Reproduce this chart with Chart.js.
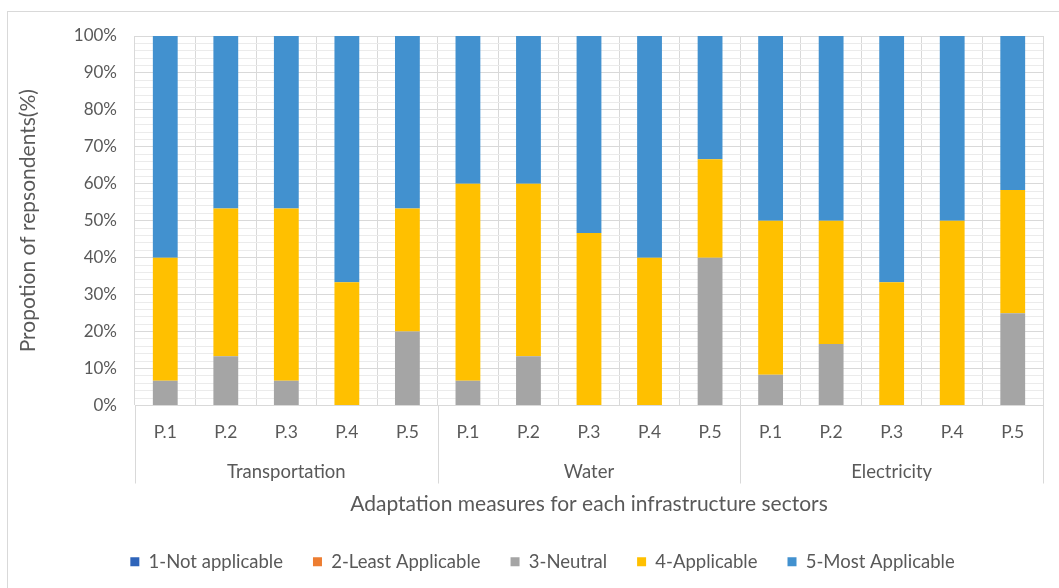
<!DOCTYPE html>
<html>
<head>
<meta charset="utf-8">
<script src="https://cdn.jsdelivr.net/npm/chart.js@4/dist/chart.umd.min.js"></script>
<style>
  html, body { margin: 0; padding: 0; background: #ffffff; overflow: hidden; }
  #frame { position: absolute; left: 7px; top: 11px; width: 1100px; height: 640px; border: 1px solid #D9D9D9; box-sizing: border-box; }
  #wrap { position: absolute; left: 0; top: 0; width: 1059px; height: 588px; }
</style>
</head>
<body>
<div id="frame"></div>
<div id="wrap"><canvas id="c" width="1059" height="588"></canvas></div>
<script>
// ---- data ----
const categories = ['P.1','P.2','P.3','P.4','P.5','P.1','P.2','P.3','P.4','P.5','P.1','P.2','P.3','P.4','P.5'];
const sectors = ['Transportation', 'Water', 'Electricity'];
const notApplicable   = [0,0,0,0,0, 0,0,0,0,0, 0,0,0,0,0];
const leastApplicable = [0,0,0,0,0, 0,0,0,0,0, 0,0,0,0,0];
const neutral         = [6.67,13.33,6.67,0,20, 6.67,13.33,0,0,40, 8.33,16.67,0,0,25];
const applicable      = [33.33,40,46.67,33.33,33.33, 53.33,46.67,46.67,40,26.67, 41.67,33.33,33.33,50,33.33];
const mostApplicable  = [60,46.67,46.67,66.67,46.67, 40,40,53.33,60,33.33, 50,50,66.67,50,41.67];
const seriesNames = ['1-Not applicable','2-Least Applicable','3-Neutral','4-Applicable','5-Most Applicable'];
const yMajorTicks = [0,10,20,30,40,50,60,70,80,90,100];
const yMinorStep = 2;

const FONT = 'Lato, "Open Sans", sans-serif';
const TXT = '#595959';

const seriesData = [notApplicable, leastApplicable, neutral, applicable, mostApplicable];
const seriesColors = ['#2E64BA', '#ED7D31', '#A5A5A5', '#FFC000', '#4291CF'];

const separators = {
  id: 'separators',
  afterDraw(chart) {
    const xs = chart.scales.x;
    const ss = chart.scales.sector;
    const ctx = chart.ctx;
    const n = categories.length;
    const per = n / sectors.length;
    const half = (xs.getPixelForValue(1) - xs.getPixelForValue(0)) / 2;
    ctx.save();
    ctx.strokeStyle = '#D9D9D9';
    ctx.lineWidth = 1;
    for (let g = 0; g <= sectors.length; g++) {
      const i = g * per;
      const x = Math.round(i < n ? xs.getPixelForValue(i) - half : xs.getPixelForValue(n - 1) + half) + 0.5;
      ctx.beginPath();
      ctx.moveTo(x, chart.chartArea.bottom);
      ctx.lineTo(x, ss.top + 33);
      ctx.stroke();
    }
    ctx.restore();
  }
};

const shiftLegend = {
  id: 'shiftLegend',
  afterLayout(chart) {
    const lg = chart.legend;
    if (lg) { lg.left += 15; lg.right += 15; lg.top += 2; lg.bottom += 2; }
  }
};

new Chart(document.getElementById('c'), {
  type: 'bar',
  data: {
    labels: categories,
    datasets: seriesNames.map((name, k) => ({
      label: name,
      data: seriesData[k],
      backgroundColor: seriesColors[k],
      borderWidth: 0,
      barPercentage: 0.41,
      categoryPercentage: 1.0
    }))
  },
  options: {
    responsive: false,
    animation: false,
    devicePixelRatio: 1,
    layout: { padding: { left: 12, right: 16, top: 36, bottom: 9 } },
    plugins: {
      legend: {
        position: 'bottom',
        labels: {
          boxWidth: 9, boxHeight: 9, padding: 30,
          color: TXT, font: { family: FONT, size: 18.5 }
        }
      },
      tooltip: { enabled: false }
    },
    scales: {
      x: {
        stacked: true,
        weight: 0,
        grid: { offset: true, color: '#D9D9D9', drawTicks: false },
        border: { display: true, color: '#D9D9D9' },
        ticks: { color: TXT, font: { family: FONT, size: 17.5 }, padding: 16, maxRotation: 0, autoSkip: false },
        afterFit(s) { s.height = 45; }
      },
      sector: {
        type: 'category',
        labels: sectors,
        position: 'bottom',
        offset: true,
        weight: 1,
        grid: { display: false, drawTicks: false },
        border: { display: false },
        ticks: { color: TXT, font: { family: FONT, size: 18.5 }, padding: 10, maxRotation: 0 },
        title: {
          display: true,
          text: 'Adaptation measures for each infrastructure sectors',
          color: TXT, font: { family: FONT, size: 21 }, padding: { top: 4, bottom: 4 }
        },
        afterFit(s) { s.height = 70; }
      },
      y: {
        stacked: true,
        min: 0, max: 100,
        afterBuildTicks(s) {
          const t = [];
          for (let v = yMajorTicks[0]; v <= yMajorTicks[yMajorTicks.length - 1]; v += yMinorStep) t.push({ value: v });
          s.ticks = t;
        },
        grid: {
          drawTicks: false,
          color: c => (c.tick && yMajorTicks.includes(c.tick.value)) ? '#D9D9D9' : '#EBEBEB'
        },
        border: { display: false },
        ticks: {
          color: TXT, font: { family: FONT, size: 17 }, padding: 18, autoSkip: false,
          callback: v => yMajorTicks.includes(v) ? v + '%' : ''
        },
        title: {
          display: true,
          text: 'Propotion of repsondents(%)',
          color: TXT, font: { family: FONT, size: 21 }, padding: { top: 4, bottom: 4 }
        },
        afterFit(s) { s.width = 123; }
      }
    }
  },
  plugins: [separators, shiftLegend]
});
</script>
</body>
</html>
